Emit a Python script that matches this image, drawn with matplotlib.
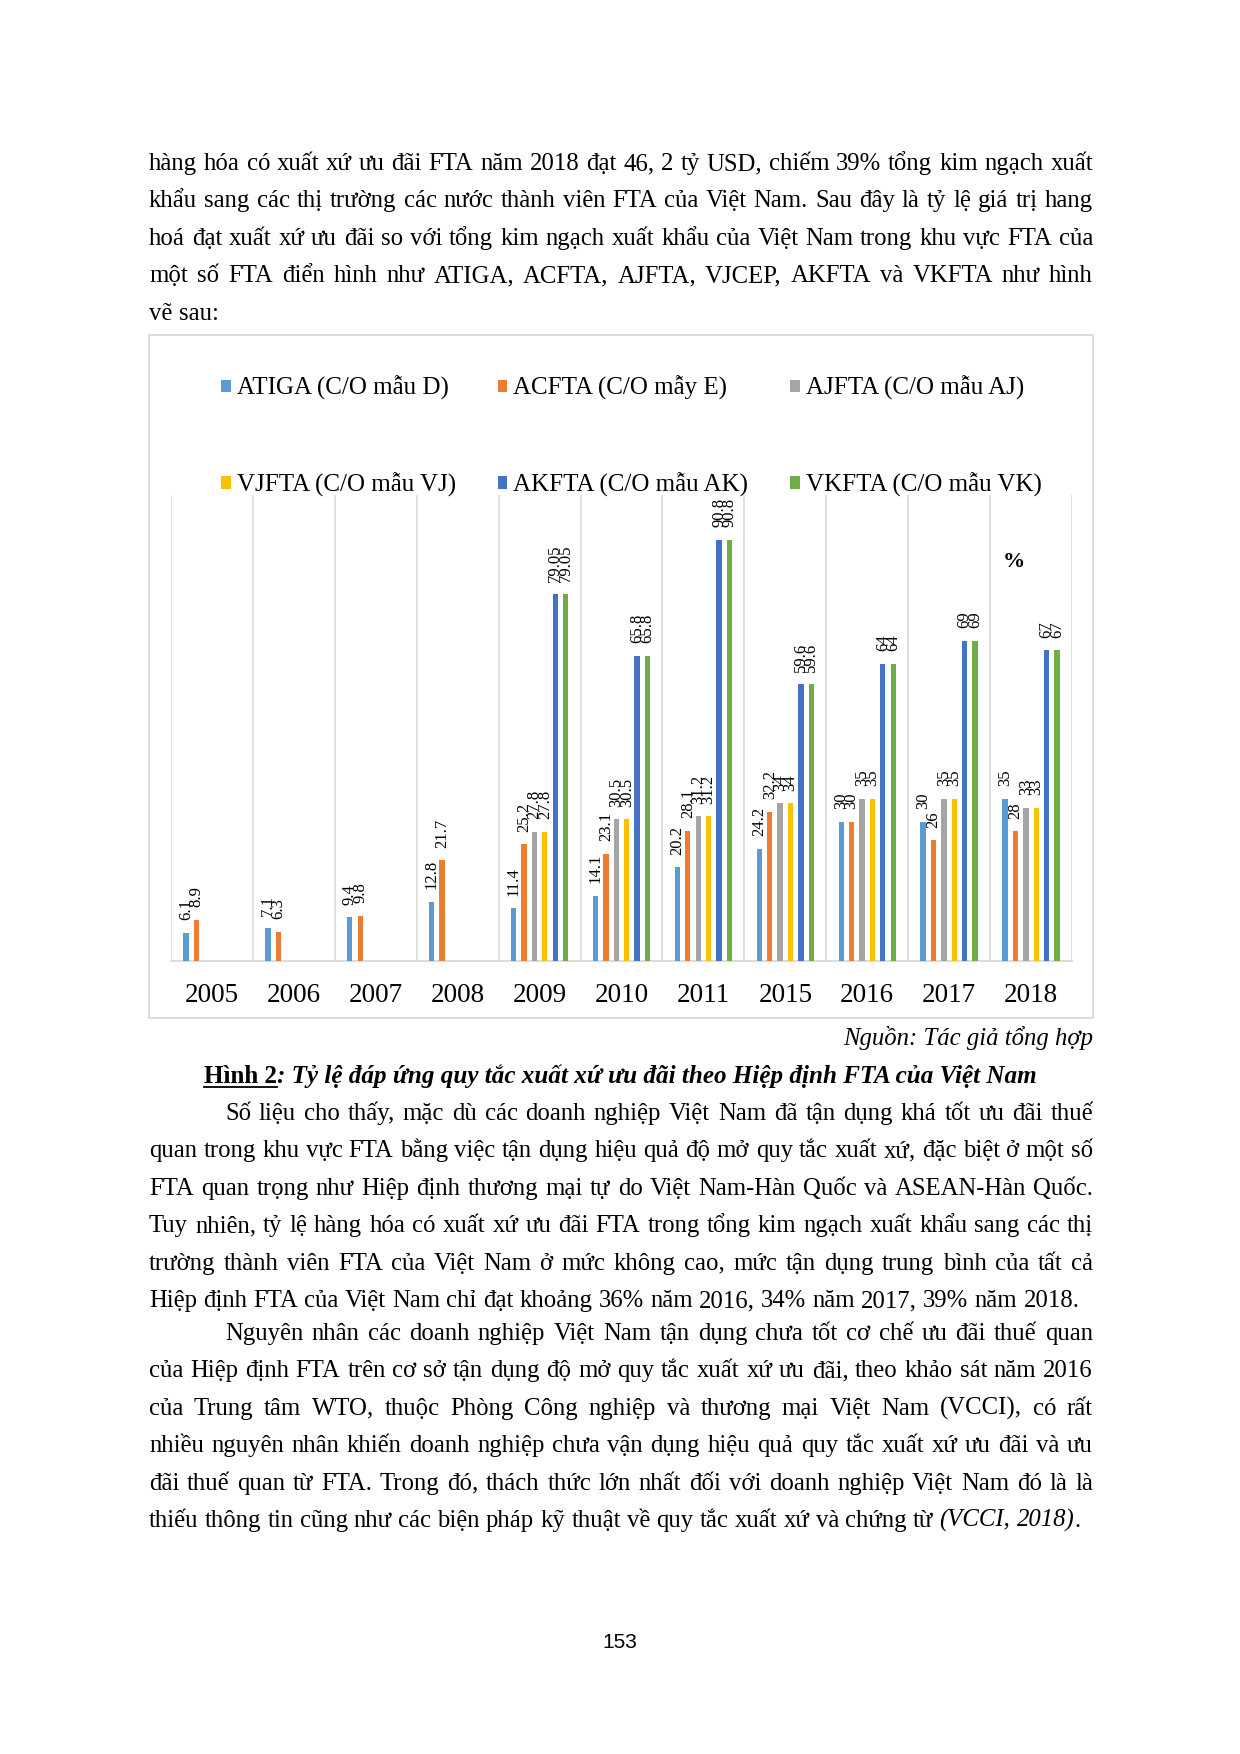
import numpy as np
import matplotlib
matplotlib.use("Agg")
import matplotlib.pyplot as plt
from matplotlib.patches import Rectangle

# ---- du lieu bieu do ----
years = ["2005", "2006", "2007", "2008", "2009", "2010", "2011", "2015", "2016", "2017", "2018"]
series_names = ["ATIGA (C/O mẫu D)", "ACFTA (C/O mẫy E)", "AJFTA (C/O mẫu AJ)",
                "VJFTA (C/O mẫu VJ)", "AKFTA (C/O mẫu AK)", "VKFTA (C/O mẫu VK)"]
nan = np.nan
atiga = [6.1, 7.1, 9.4, 12.8, 11.4, 14.1, 20.2, 24.2, 30, 30, 35]
acfta = [8.9, 6.3, 9.8, 21.7, 25.2, 23.1, 28.1, 32.2, 30, 26, 28]
ajfta = [nan, nan, nan, nan, 27.8, 30.5, 31.2, 34, 35, 35, 33]
vjfta = [nan, nan, nan, nan, 27.8, 30.5, 31.2, 34, 35, 35, 33]
akfta = [nan, nan, nan, nan, 79.05, 65.8, 90.8, 59.6, 64, 69, 67]
vkfta = [nan, nan, nan, nan, 79.05, 65.8, 90.8, 59.6, 64, 69, 67]
colors = ["#5B9BD5", "#ED7D31", "#A5A5A5", "#FFC000", "#4472C4", "#70AD47"]

# ---- van ban trang ----
para1 = ["hàng hóa có xuất xứ ưu đãi FTA năm 2018 đạt 46, 2 tỷ USD, chiếm 39% tổng kim ngạch xuất",
         "khẩu sang các thị trường các nước thành viên FTA của Việt Nam. Sau đây là tỷ lệ giá trị hang",
         "hoá đạt xuất xứ ưu đãi so với tổng kim ngạch xuất khẩu của Việt Nam trong khu vực FTA của",
         "một số FTA điển hình như ATIGA, ACFTA, AJFTA, VJCEP, AKFTA và VKFTA như hình",
         "vẽ sau:"]
para2 = ["Số liệu cho thấy, mặc dù các doanh nghiệp Việt Nam đã tận dụng khá tốt ưu đãi thuế",
         "quan trong khu vực FTA bằng việc tận dụng hiệu quả độ mở quy tắc xuất xứ, đặc biệt ở một số",
         "FTA quan trọng như Hiệp định thương mại tự do Việt Nam-Hàn Quốc và ASEAN-Hàn Quốc.",
         "Tuy nhiên, tỷ lệ hàng hóa có xuất xứ ưu đãi FTA trong tổng kim ngạch xuất khẩu sang các thị",
         "trường thành viên FTA của Việt Nam ở mức không cao, mức tận dụng trung bình của tất cả",
         "Hiệp định FTA của Việt Nam chỉ đạt khoảng 36% năm 2016, 34% năm 2017, 39% năm 2018."]
para3 = ["Nguyên nhân các doanh nghiệp Việt Nam tận dụng chưa tốt cơ chế ưu đãi thuế quan",
         "của Hiệp định FTA trên cơ sở tận dụng độ mở quy tắc xuất xứ ưu đãi, theo khảo sát năm 2016",
         "của Trung tâm WTO, thuộc Phòng Công nghiệp và thương mại Việt Nam (VCCI), có rất",
         "nhiều nguyên nhân khiến doanh nghiệp chưa vận dụng hiệu quả quy tắc xuất xứ ưu đãi và ưu",
         "đãi thuế quan từ FTA. Trong đó, thách thức lớn nhất đối với doanh nghiệp Việt Nam đó là là",
         "thiếu thông tin cũng như các biện pháp kỹ thuật về quy tắc xuất xứ và chứng từ"]

W, H = 1240, 1754
SERIF = "Liberation Serif"
BODY = 17.8
plt.rcParams["font.family"] = SERIF

fig = plt.figure(figsize=(W / 100, H / 100), dpi=100)
fig.patch.set_facecolor("white")
renderer = fig.canvas.get_renderer()


def fx(x):
    return x / W


def fy(y):
    return 1 - y / H


def put_words(tokens, y, x0, x1=None, size=BODY):
    # tokens: (word, style kwargs, space before?)
    arts, widths = [], []
    for w, kw, _ in tokens:
        t = fig.text(fx(x0), fy(y), w, va="baseline", ha="left", fontsize=size, **kw)
        arts.append(t)
        widths.append(t.get_window_extent(renderer).width)
    n_gaps = sum(1 for tok in tokens[1:] if tok[2])
    if x1 is None or n_gaps == 0:
        gap = 0.25 * size * 100 / 72
    else:
        gap = (x1 - x0 - sum(widths)) / n_gaps
    x = x0
    for i, t in enumerate(arts):
        if i > 0 and tokens[i][2]:
            x += gap
        t.set_x(fx(x))
        x += widths[i]
    return x


def paragraph(lines, y0, indent=True, extra_last=None):
    step = 37.4
    for i, line in enumerate(lines):
        toks = [(w, {}, True) for w in line.split(" ")]
        x0 = 225 if (i == 0 and indent) else 149
        last = i == len(lines) - 1
        if last and extra_last:
            toks += extra_last
        put_words(toks, y0 + i * step, x0, None if last else 1093)


paragraph(para1, 170, indent=False)
paragraph(para2, 1120)
paragraph(para3, 1340, extra_last=[("(VCCI,", {"style": "italic"}, True),
                                   ("2018)", {"style": "italic"}, True),
                                   (".", {}, False)])

# nguon + ten hinh
fig.text(fx(1093), fy(1045), "Nguồn: Tác giả tổng hợp", ha="right", va="baseline",
         fontsize=BODY, style="italic")
CAP = 18.1
cap1 = fig.text(0, fy(1083), "Hình 2", fontsize=CAP, weight="bold", va="baseline")
cap2 = fig.text(0, fy(1083), ": Tỷ lệ đáp ứng quy tắc xuất xứ ưu đãi theo Hiệp định FTA của Việt Nam",
                fontsize=CAP, weight="bold", style="italic", va="baseline")
w1 = cap1.get_window_extent(renderer).width
w2 = cap2.get_window_extent(renderer).width
cx = 620 - (w1 + w2) / 2
cap1.set_x(fx(cx))
cap2.set_x(fx(cx + w1))
fig.add_artist(plt.Line2D([fx(cx), fx(cx + w1)], [fy(1087), fy(1087)], color="black", lw=1.3))

fig.text(0.5, fy(1648), "153", ha="center", va="baseline", fontsize=15, family="Liberation Sans")

# khung bieu do
fig.add_artist(Rectangle((fx(149), fy(1018)), (1093 - 149) / W, (1018 - 335) / H,
                         transform=fig.transFigure, fill=False, ec="#d9d9d9", lw=1.3))

# ---- bieu do cot ----
ax = fig.add_axes([fx(171), fy(961), (1072 - 171) / W, (961 - 495) / H])
x = np.arange(len(years))
all_series = [atiga, acfta, ajfta, vjfta, akfta, vkfta]
step = 0.127
bw = 0.065
bars = []
for i, (name, vals, c) in enumerate(zip(series_names, all_series, colors)):
    pos = x + (i - 2.5) * step
    b = ax.bar(pos, vals, width=bw, color=c, label=name, zorder=3)
    bars.append(b)
    for px_, v in zip(pos, vals):
        if np.isnan(v):
            continue
        ax.annotate(f"{v:g}", (px_, v), xytext=(0, 9), textcoords="offset points",
                    rotation=90, ha="center", va="bottom", fontsize=12)

ax.set_xlim(-0.5, len(years) - 0.5)
ax.set_ylim(0, 100.4)
ax.set_xticks(x)
ax.set_xticklabels(years, fontsize=19.5)
ax.set_xticks(np.arange(-0.5, len(years)), minor=True)
ax.tick_params(axis="x", which="both", length=0, pad=16)
ax.set_yticks([])
ax.grid(which="minor", axis="x", color="#d9d9d9", lw=1.1, zorder=0)
for s in ["left", "right", "top"]:
    ax.spines[s].set_visible(False)
ax.spines["bottom"].set_color("#d9d9d9")
ax.spines["bottom"].set_linewidth(1.3)
ax.patch.set_alpha(0)

order = [0, 3, 1, 4, 2, 5]
ax.legend([bars[k] for k in order], [series_names[k] for k in order], ncol=3,
          loc="upper left", bbox_to_anchor=(fx(221), fy(376)), bbox_transform=fig.transFigure,
          frameon=False, fontsize=18, borderpad=0, borderaxespad=0,
          handlelength=0.38, handleheight=0.38, handletextpad=0.25,
          labelspacing=2.88, columnspacing=1.67)

fig.text(fx(1014), fy(562), "%", ha="center", va="center", fontsize=16, weight="bold")

fig.savefig("out.png", dpi=100, facecolor="white")
